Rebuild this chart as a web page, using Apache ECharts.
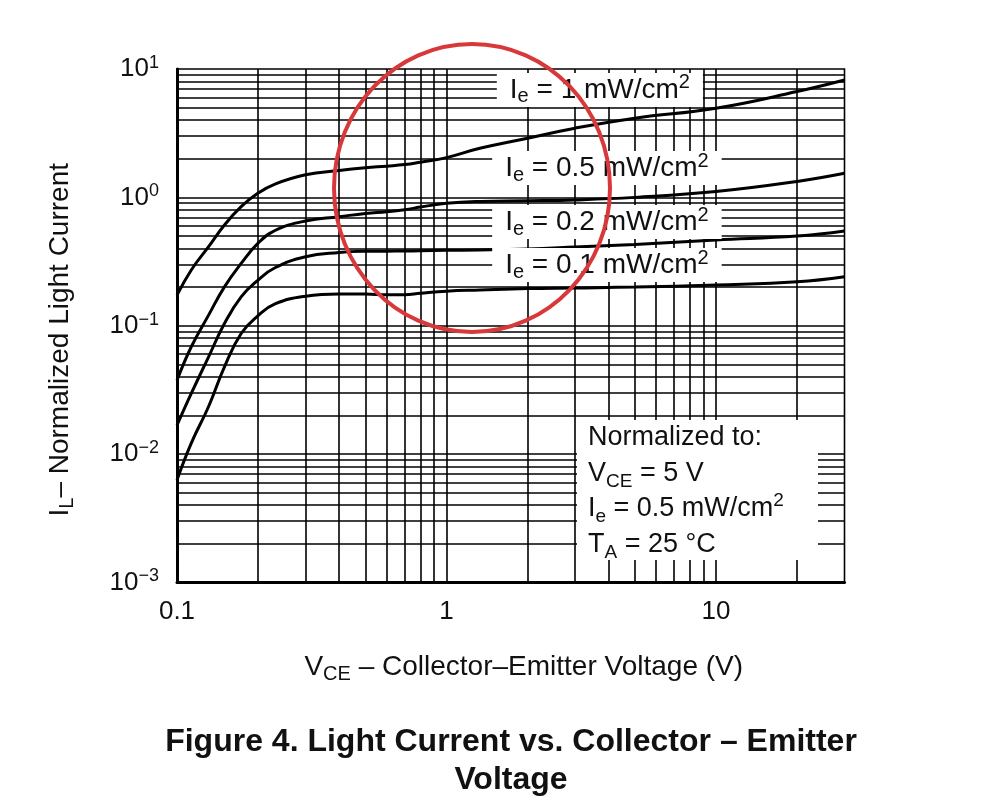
<!DOCTYPE html>
<html>
<head>
<meta charset="utf-8">
<script src="https://cdn.jsdelivr.net/npm/echarts@6/dist/echarts.min.js"></script>
<style>
  html, body { margin: 0; padding: 0; background: #fff; }
  #chart { width: 984px; height: 811px; }
</style>
</head>
<body>
<div id="chart"></div>
<script>
const FONT = '"Liberation Sans", Arial, Helvetica, sans-serif'

// V_CE sample points (V)
const vce = [0.1, 0.113, 0.131, 0.15, 0.173, 0.2, 0.231, 0.3, 0.4, 0.5, 0.6, 0.7, 0.8, 1, 1.33, 2, 3, 5, 10, 20, 30]
// normalized light current, one list per irradiance
const ie1 = [0.173, 0.272, 0.413, 0.609, 0.846, 1.08, 1.27, 1.5, 1.62, 1.7, 1.75, 1.8, 1.88, 2.04, 2.41, 2.89, 3.46, 4.14, 4.95, 6.67, 8.2]
const ie05 = [0.0376, 0.0686, 0.121, 0.201, 0.306, 0.44, 0.552, 0.655, 0.707, 0.75, 0.774, 0.8, 0.84, 0.9, 0.93, 0.94, 0.955, 1.0, 1.11, 1.33, 1.54]
const ie02 = [0.0168, 0.0297, 0.0573, 0.104, 0.168, 0.227, 0.283, 0.345, 0.372, 0.38, 0.381, 0.382, 0.384, 0.387, 0.389, 0.396, 0.41, 0.43, 0.466, 0.5, 0.547]
const ie01 = [0.0063, 0.0122, 0.0235, 0.0478, 0.087, 0.12, 0.148, 0.17, 0.177, 0.177, 0.174, 0.174, 0.179, 0.186, 0.19, 0.195, 0.197, 0.2, 0.208, 0.22, 0.241]

const curveIe = ['1', '0.5', '0.2', '0.1']
// where each curve label sits (V_CE, I_L)
const labelAt = [[3.71, 6.87], [3.94, 1.69], [3.94, 0.643], [3.94, 0.297]]

// tick labels
const xTicks = [0.1, 1, 10]
const xTickText = ['0.1', '1', '10']
const yTicks = [0.001, 0.01, 0.1, 1, 10]
const yTickExp = ['\u22123', '\u22122', '\u22121', '0', '1']

// log graph paper lines
const xGrid = [0.2, 0.3, 0.4, 0.5, 0.6, 0.7, 0.8, 0.9, 1, 2, 3, 4, 5, 6, 7, 8, 9, 10, 20]
const yGrid = [
  0.002, 0.003, 0.004, 0.005, 0.006, 0.007, 0.008, 0.009, 0.01,
  0.02, 0.03, 0.04, 0.05, 0.06, 0.07, 0.08, 0.09, 0.1,
  0.2, 0.3, 0.4, 0.5, 0.6, 0.7, 0.8, 0.9, 1,
  2, 3, 4, 5, 6, 7, 8, 9
]

const near = (a, b) => Math.abs(Math.log10(a) - Math.log10(b)) < 1e-6

// rich styles for I_e / V_CE style text: base, subscript, superscript
function richText(size, lh, key) {
  const c = key || 'color'
  return {
    t: { fontSize: size, lineHeight: lh, fontFamily: FONT, [c]: '#111' },
    sub: { fontSize: Math.round(size * 0.72), lineHeight: Math.round(lh - 0.8 * size), verticalAlign: 'bottom', fontFamily: FONT, [c]: '#111' },
    sup: { fontSize: Math.round(size * 0.72), lineHeight: Math.round(lh - 0.36 * size), verticalAlign: 'top', fontFamily: FONT, [c]: '#111' }
  }
}

const chart = echarts.init(document.getElementById('chart'), null, { renderer: 'canvas' })

const curveData = [ie1, ie05, ie02, ie01]
const curveSeries = curveData.map((vals, i) => ({
  type: 'line',
  name: 'Ie = ' + curveIe[i] + ' mW/cm2',
  data: vce.map((x, k) => [x, vals[k]]),
  smooth: 0.45,
  symbol: 'none',
  z: 3,
  lineStyle: { color: '#000', width: 3 },
  emphasis: { disabled: true },
  markPoint: {
    z: 6,
    silent: true,
    animation: false,
    symbol: 'rect',
    symbolSize: 1,
    itemStyle: { color: 'rgba(0,0,0,0)' },
    label: {
      show: true,
      position: 'inside',
      color: '#111',
      backgroundColor: '#fff',
      padding: [0, 13, 0, 13],
      formatter: '{t|I}{sub|e}{t| = ' + curveIe[i] + ' mW/cm}{sup|2}',
      rich: richText(28, 34)
    },
    data: [{ coord: labelAt[i] }]
  }
}))

const gridSeries = {
  type: 'line',
  data: [],
  silent: true,
  z: 1,
  markLine: {
    z: 1,
    silent: true,
    animation: false,
    precision: 6,
    symbol: ['none', 'none'],
    label: { show: false },
    lineStyle: { color: '#000', width: 1.6, type: 'solid' },
    emphasis: { disabled: true },
    data: [
      ...xGrid.map(v => ({ xAxis: v })),
      ...yGrid.map(v => ({ yAxis: v }))
    ]
  }
}

const opt = {
  backgroundColor: '#fff',
  animation: false,
  grid: {
    left: 177, right: 139.5, top: 69, bottom: 228.5,
    show: true, borderColor: '#000', borderWidth: 1.6
  },
  xAxis: {
    type: 'log',
    logBase: 10,
    min: 0.1,
    max: 30,
    name: '{t|V}{sub|CE}{t| \u2013 Collector\u2013Emitter Voltage (V)}',
    nameLocation: 'middle',
    nameGap: 68,
    nameTextStyle: { padding: [0, 0, 0, 26], rich: richText(28, 34) },
    axisLine: { show: true, lineStyle: { color: '#000', width: 3 } },
    axisTick: { show: false },
    splitLine: { show: false },
    axisLabel: {
      margin: 16,
      fontFamily: FONT,
      fontSize: 26,
      color: '#111',
      showMaxLabel: false,
      formatter: v => {
        const k = xTicks.findIndex(t => near(t, v))
        return k < 0 ? '' : xTickText[k]
      }
    }
  },
  yAxis: {
    type: 'log',
    logBase: 10,
    min: 0.001,
    max: 10,
    name: '{t|I}{sub|L}{t|\u2013 Normalized Light Current}',
    nameLocation: 'middle',
    nameRotate: 90,
    nameGap: 100,
    nameTextStyle: { padding: [0, 28, 0, 0], rich: richText(28, 34) },
    axisLine: { show: true, lineStyle: { color: '#000', width: 3 } },
    axisTick: { show: false },
    splitLine: { show: false },
    axisLabel: {
      margin: 18,
      formatter: v => {
        const k = yTicks.findIndex(t => near(t, v))
        return k < 0 ? '' : '{b|10}{s|' + yTickExp[k] + '}'
      },
      rich: {
        b: { fontFamily: FONT, fontSize: 26, lineHeight: 30, color: '#111' },
        s: { fontFamily: FONT, fontSize: 18, lineHeight: 12, verticalAlign: 'top', color: '#111' }
      }
    }
  },
  graphic: [
    {
      type: 'group',
      left: 577,
      top: 420,
      children: [
        { type: 'rect', z: 20, shape: { x: 0, y: 0, width: 241, height: 140 }, style: { fill: '#fff' } },
        {
          type: 'text',
          z: 21,
          x: 11,
          y: 0,
          style: {
            text: '{t|Normalized to:}\n{t|V}{sub|CE}{t| = 5 V}\n{t|I}{sub|e}{t| = 0.5 mW/cm}{sup|2}\n{t|T}{sub|A}{t| = 25 \u00b0C}',
            rich: richText(27, 35.5, 'fill'),
            fill: '#111'
          }
        }
      ]
    },
    {
      type: 'text',
      z: 20,
      x: 511,
      y: 723,
      style: {
        text: 'Figure 4. Light Current vs. Collector \u2013 Emitter\nVoltage',
        align: 'center',
        fontFamily: FONT,
        fontSize: 32,
        fontWeight: 'bold',
        lineHeight: 38,
        fill: '#111'
      }
    },
    {
      type: 'ellipse',
      z: 50,
      silent: true,
      shape: { cx: 472, cy: 188, rx: 138, ry: 144 },
      style: { fill: 'none', stroke: '#d9383a', lineWidth: 4 }
    }
  ],
  series: [gridSeries, ...curveSeries]
}

chart.setOption(opt)
</script>
</body>
</html>
